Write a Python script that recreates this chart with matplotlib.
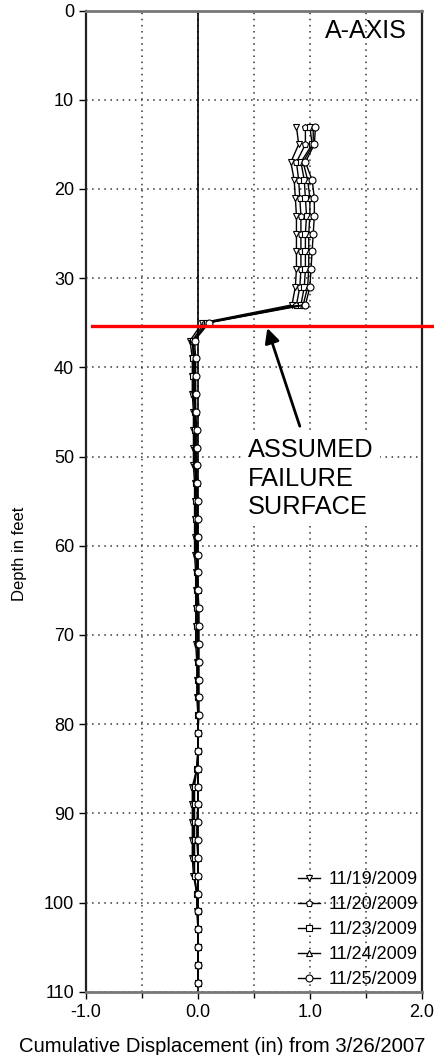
import numpy as np
import matplotlib
matplotlib.use("Agg")
import matplotlib.pyplot as plt
from matplotlib.ticker import MultipleLocator

plt.rcParams["font.family"] = ["Liberation Sans", "DejaVu Sans"]

# ====== DATA ======
depth = list(range(13, 111, 2))  # 13 ... 109 ft

labels = ["11/19/2009", "11/20/2009", "11/23/2009", "11/24/2009", "11/25/2009"]
markers = ["v", "p", "s", "^", "o"]

disp_1119 = [0.88, 0.90, 0.83, 0.86, 0.87, 0.88, 0.88, 0.88, 0.88, 0.87, 0.84,
             0.04, -0.07,
             -0.05, -0.05, -0.05, -0.04, -0.04, -0.04, -0.04, -0.03, -0.03, -0.03,
             -0.03, -0.03, -0.02, -0.02, -0.02, -0.02, -0.02, -0.01, -0.01, -0.01,
             0.00, 0.00, 0.00, -0.01, -0.05, -0.05, -0.05, -0.05, -0.05, -0.04,
             -0.01, -0.01, 0.00, 0.00, 0.00, 0.00]
disp_1120 = [0.96, 0.96, 0.88, 0.90, 0.91, 0.92, 0.92, 0.92, 0.92, 0.91, 0.88,
             0.06, -0.05,
             -0.04, -0.04, -0.04, -0.03, -0.03, -0.03, -0.03, -0.02, -0.02, -0.02,
             -0.02, -0.02, -0.01, -0.01, -0.01, -0.01, -0.01, 0.00, 0.00, 0.00,
             0.00, 0.00, 0.00, -0.01, -0.04, -0.04, -0.04, -0.04, -0.04, -0.03,
             -0.01, 0.00, 0.00, 0.00, 0.00, 0.00]
disp_1123 = [1.00, 1.02, 0.92, 0.95, 0.96, 0.97, 0.96, 0.96, 0.96, 0.95, 0.92,
             0.08, -0.04,
             -0.04, -0.04, -0.03, -0.03, -0.03, -0.02, -0.02, -0.02, -0.02, -0.02,
             -0.01, -0.01, -0.01, -0.01, -0.01, -0.01, 0.00, 0.00, 0.00, 0.00,
             0.00, 0.00, 0.00, -0.01, -0.03, -0.03, -0.03, -0.03, -0.03, -0.03,
             -0.01, 0.00, 0.00, 0.00, 0.00, 0.00]
disp_1124 = [1.03, 1.03, 0.94, 0.98, 1.00, 1.00, 0.99, 0.99, 0.99, 0.98, 0.94,
             0.09, -0.04,
             -0.03, -0.03, -0.03, -0.02, -0.02, -0.02, -0.02, -0.01, -0.01, -0.01,
             -0.01, -0.01, -0.01, 0.00, 0.00, 0.00, 0.00, 0.00, 0.00, 0.00,
             0.00, 0.00, 0.00, 0.00, 0.00, 0.00, -0.01, -0.01, 0.00, 0.00,
             0.00, 0.00, 0.00, 0.00, 0.00, 0.00]
disp_1125 = [1.05, 1.04, 0.96, 1.02, 1.04, 1.04, 1.03, 1.02, 1.01, 1.00, 0.96,
             0.10, -0.03,
             -0.02, -0.02, -0.02, -0.02, -0.01, -0.01, -0.01, -0.01, 0.00, 0.00,
             0.00, 0.00, 0.00, 0.00, 0.01, 0.01, 0.01, 0.01, 0.01, 0.01,
             0.01, 0.00, 0.00, 0.00, 0.00, 0.00, 0.00, 0.00, 0.00, 0.00,
             0.00, 0.00, 0.00, 0.00, 0.00, 0.00]
series = [disp_1119, disp_1120, disp_1123, disp_1124, disp_1125]

failure_depth = 35.4

# ====== FIGURE ======
fig = plt.figure(figsize=(4.34, 10.55), dpi=100)
ax = fig.add_axes([0.198, 0.060, 0.774, 0.930])

for vals, lab, mk in zip(series, labels, markers):
    ax.plot(vals, depth, color="black", lw=1.0, marker=mk, ms=5,
            mfc="white", mec="black", mew=0.8, label=lab, zorder=3)

ax.set_xlim(-1.0, 2.0)
ax.set_ylim(110, 0)
ax.xaxis.set_major_locator(MultipleLocator(1.0))
ax.xaxis.set_minor_locator(MultipleLocator(0.5))
ax.yaxis.set_major_locator(MultipleLocator(10))
ax.xaxis.set_major_formatter(lambda v, p: f"{v:.1f}")

ax.grid(True, which="both", axis="x", ls=(0, (1, 3)), color="#333333", lw=1.1)
ax.grid(True, which="major", axis="y", ls=(0, (1, 3)), color="#333333", lw=1.1)
ax.axvline(0.0, color="black", lw=1.2, zorder=2)

ax.tick_params(axis="both", which="both", direction="out", length=5, width=1,
               labelsize=13, colors="black")
ax.tick_params(axis="x", which="minor", length=4)

for s in ["left", "right"]:
    ax.spines[s].set_linewidth(1.6)
    ax.spines[s].set_color("#222222")
for s in ["top", "bottom"]:
    ax.spines[s].set_linewidth(2.0)
    ax.spines[s].set_color("#777777")

ax.set_xlabel("Cumulative Displacement (in) from 3/26/2007", fontsize=14.6)
ax.xaxis.set_label_coords(0.405, -0.046)
ax.set_ylabel("Depth in feet", fontsize=12)
ax.yaxis.set_label_coords(-0.175, 0.446)

# failure surface
ax.plot([-0.95, 2.1], [failure_depth, failure_depth], color="red", lw=2.4,
        clip_on=False, zorder=4)
ax.annotate("", xy=(0.62, 35.6), xytext=(0.91, 46.6),
            arrowprops=dict(arrowstyle="-|>", color="black", lw=2,
                            mutation_scale=22, shrinkA=0, shrinkB=0), zorder=5)
ax.text(0.45, 47.9, "ASSUMED\nFAILURE\nSURFACE", fontsize=18.3, ha="left", va="top",
        linespacing=1.25, zorder=5,
        bbox=dict(facecolor="white", edgecolor="none", pad=4))
ax.text(1.5, 2.3, "A-AXIS", fontsize=18, ha="center", va="center", zorder=5)

ax.legend(loc="lower right", bbox_to_anchor=(1.01, -0.004), frameon=False,
          fontsize=13, handlelength=1.2, handletextpad=0.5, labelspacing=0.45,
          borderaxespad=0.0)

plt.savefig("out.png", dpi=100)
plt.close()
